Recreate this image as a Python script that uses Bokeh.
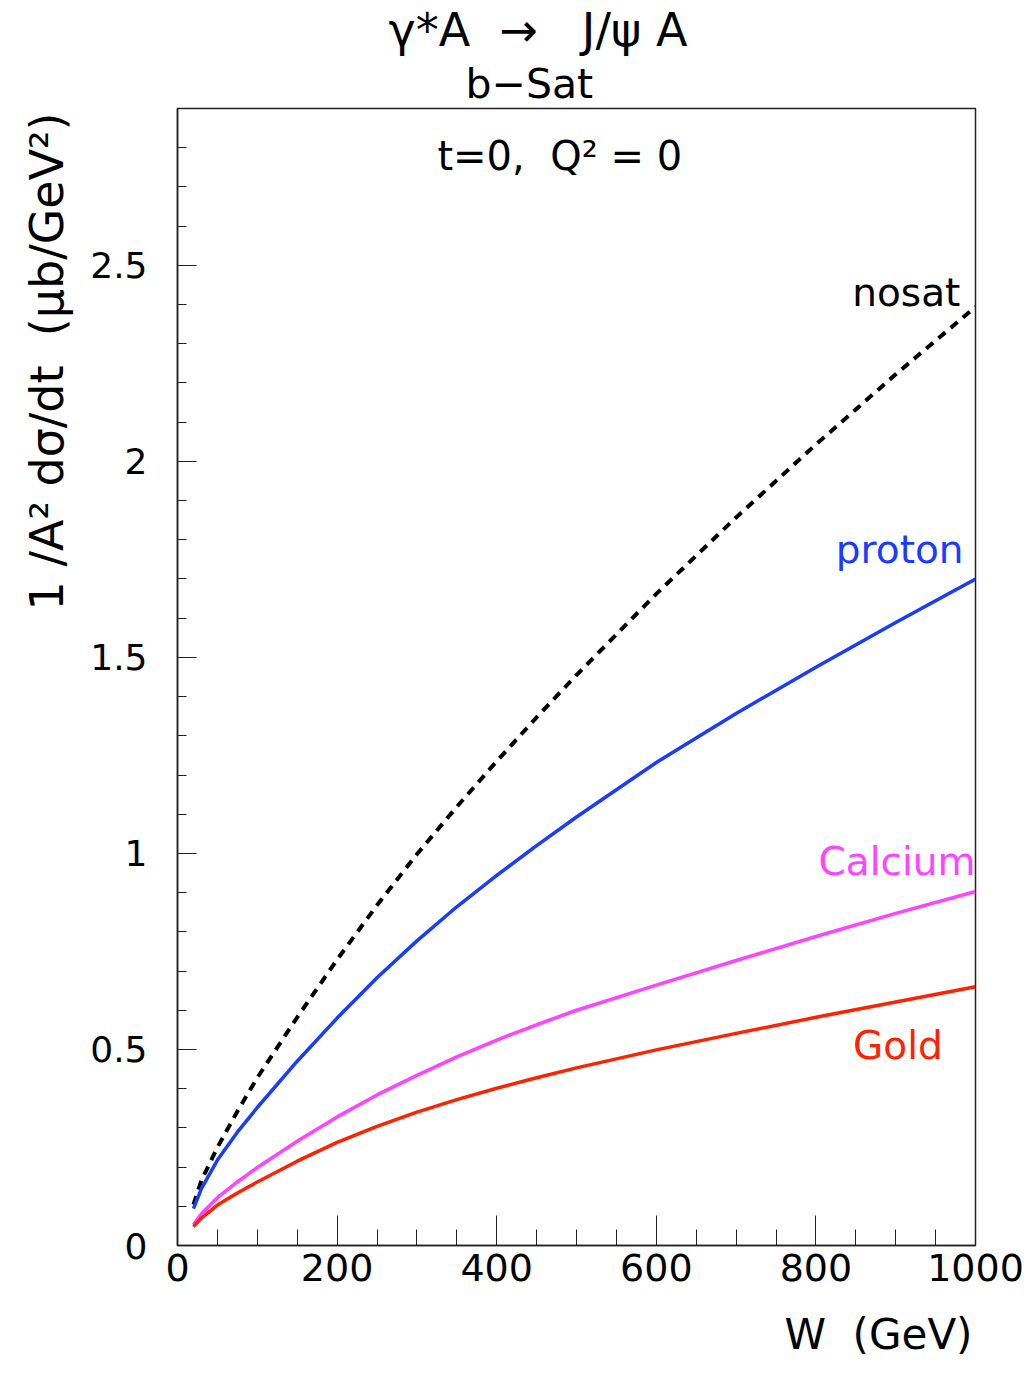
from bokeh.plotting import figure
from bokeh.models import Label, Title, SingleIntervalTicker, CustomJSTickFormatter, Range1d
from bokeh.embed import file_html
from bokeh.resources import INLINE

# ---- data ----
W = [20, 30, 50, 75, 100, 150, 200, 250, 300, 350, 400, 450, 500, 600, 700, 800, 900, 1000]
nosat = [0.104, 0.166, 0.250, 0.342, 0.428, 0.582, 0.729, 0.868, 0.998, 1.119, 1.235, 1.347,
         1.455, 1.662, 1.857, 2.043, 2.222, 2.394]
proton = [0.094, 0.145, 0.218, 0.289, 0.352, 0.470, 0.580, 0.683, 0.777, 0.864, 0.944, 1.020,
          1.093, 1.232, 1.357, 1.475, 1.589, 1.700]
calcium = [0.053, 0.081, 0.122, 0.162, 0.199, 0.266, 0.328, 0.384, 0.434, 0.481, 0.524, 0.563,
           0.600, 0.664, 0.727, 0.788, 0.847, 0.903]
gold = [0.048, 0.070, 0.103, 0.134, 0.162, 0.215, 0.263, 0.304, 0.340, 0.372, 0.401, 0.428,
        0.453, 0.499, 0.541, 0.582, 0.621, 0.660]

x_ticks = [0, 200, 400, 600, 800, 1000]
x_tick_labels = ["0", "200", "400", "600", "800", "1000"]
y_ticks = [0, 0.5, 1, 1.5, 2, 2.5]
y_tick_labels = ["0", "0.5", "1", "1.5", "2", "2.5"]

FONT = "DejaVu Sans"
BLUE = "#1a3cff"
MAGENTA = "#ff44ff"
RED = "#ff2200"
NB = "\u00a0"

p = figure(width=1029, height=1383, output_backend="svg", toolbar_location=None,
           x_range=Range1d(0, 1000), y_range=Range1d(0, 2.9),
           min_border_left=177, min_border_right=54,
           min_border_top=108, min_border_bottom=138)
p.xgrid.visible = False
p.ygrid.visible = False
p.outline_line_color = "#222222"
p.outline_line_width = 1.5
p.background_fill_color = "white"
p.border_fill_color = "white"

fmt_code = """
const i = tvals.findIndex(t => Math.abs(t - tick) < 1e-9);
return i >= 0 ? tlabels[i] : '';
"""

def style_axis(ax):
    ax.major_tick_out = 0
    ax.minor_tick_out = 0
    ax.major_label_text_font = FONT
    ax.major_label_text_color = "black"
    ax.axis_line_color = "#222222"
    ax.axis_line_width = 1.5
    ax.major_tick_line_color = "#222222"
    ax.minor_tick_line_color = "#222222"

xa = p.xaxis[0]
style_axis(xa)
xa.ticker = SingleIntervalTicker(interval=200, num_minor_ticks=4)
xa.formatter = CustomJSTickFormatter(args=dict(tvals=x_ticks, tlabels=x_tick_labels), code=fmt_code)
xa.major_tick_in = 30
xa.minor_tick_in = 16
xa.major_label_standoff = 8
xa.major_label_text_font_size = "38px"

ya = p.yaxis[0]
style_axis(ya)
ya.ticker = SingleIntervalTicker(interval=0.5, num_minor_ticks=5)
ya.formatter = CustomJSTickFormatter(args=dict(tvals=y_ticks, tlabels=y_tick_labels), code=fmt_code)
ya.major_tick_in = 19
ya.minor_tick_in = 9
ya.major_label_standoff = 30
ya.major_label_text_font_size = "36px"

# ---- curves ----
p.line(W, nosat, line_color="black", line_width=4, line_dash="9 7")
p.line(W, proton, line_color=BLUE, line_width=3.5)
p.line(W, calcium, line_color=MAGENTA, line_width=3.5)
p.line(W, gold, line_color=RED, line_width=3.5)

# ---- curve labels (data coords) ----
def dlabel(x, y, text, color, size="39px", align="right"):
    p.add_layout(Label(x=x, y=y, text=text, text_color=color, text_font=FONT,
                       text_font_size=size, text_align=align, text_baseline="middle"))

dlabel(981, 2.43, "nosat", "black")
dlabel(985, 1.775, "proton", BLUE)
dlabel(1000, 0.98, "Calcium", MAGENTA)
dlabel(959, 0.51, "Gold", RED)
dlabel(479, 2.78, "t=0," + NB + NB + "Q² = 0", "black", size="40px", align="center")

# ---- titles (first added sits nearest the frame) ----
def title(text, side, align, offset, size, standoff):
    p.add_layout(Title(text=text, align=align, offset=offset, text_font=FONT, text_color="black",
                       text_font_size=size, text_font_style="normal", standoff=standoff), side)

title("b−Sat", "above", "left", 288, "41px", 2)
title("γ*A" + NB + NB + "→" + NB + NB + NB + "J/ψ A", "above", "left", 211, "46px", 0)
# axis titles, placed at the far ends of the axes as in the reference
title("W" + NB + NB + "(GeV)", "below", "right", 3, "42px", 49)
title("1 /A² dσ/dt" + NB + NB + "(μb/GeV²)", "left", "right", 4, "46px", 28)

open("out.html", "w").write(file_html(p, INLINE))
